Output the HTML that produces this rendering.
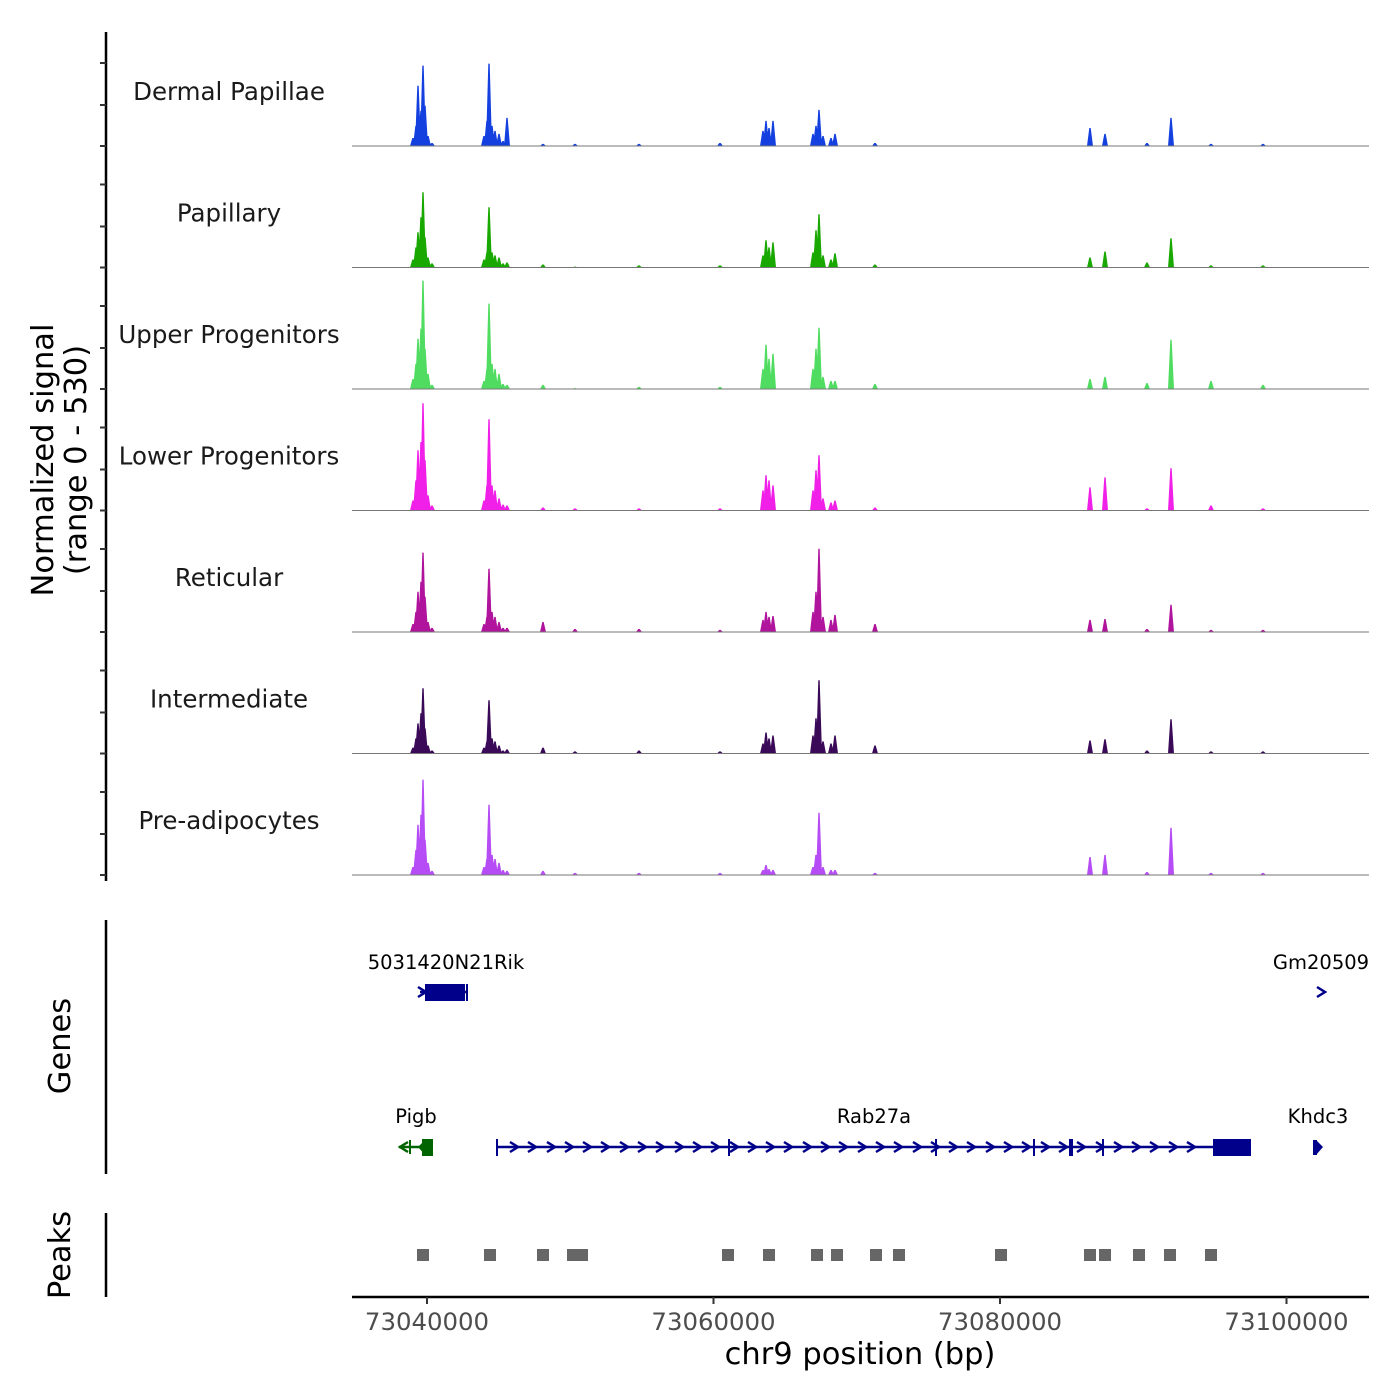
<!DOCTYPE html>
<html><head><meta charset="utf-8">
<style>
html,body{margin:0;padding:0;background:#fff;}
svg{display:block;font-family:"DejaVu Sans","Liberation Sans",sans-serif;}
</style></head>
<body>
<svg id="chart" width="1400" height="1400" viewBox="0 0 1400 1400" xmlns="http://www.w3.org/2000/svg">
<g id="tracks"></g>
<g id="genes"></g>
<g id="peaks"></g>
<g id="axes"></g>
</svg>
<script>
// ---- data ----
const trackNames = ["Dermal Papillae","Papillary","Upper Progenitors","Lower Progenitors","Reticular","Intermediate","Pre-adipocytes"];
const trackColors = ["#1440e0","#19a800","#50dc60","#f020e8","#b0149c","#3a0a58","#b54cf5"];
const spikePositions = [73039023,73039232,73039372,73039581,73039721,73039860,73040070,73040349,
 73043979,73044189,73044328,73044538,73044747,73045026,73045306,73045585,
 73048098,73050332,73054800,73060454,
 73063456,73063665,73063875,73064154,
 73066947,73067156,73067366,73067645,73068203,73068483,
 73071275,73086284,73087331,73090263,73091939,73094731,73098361];
const sigDermal = [35,88,264,154,352,176,44,13, 44,110,361,88,66,53,22,123, 9,9,9,13, 66,110,79,110, 53,88,158,44,35,53, 13, 79,53,13,123,9,9];
const sigPapillary = [35,88,154,220,330,132,44,18, 35,66,264,66,53,44,18,22, 13,4,9,9, 53,119,88,110, 66,163,233,53,35,62, 13, 44,70,22,128,9,9];
const sigUpper = [44,110,220,264,475,176,66,18, 35,88,374,110,88,66,22,18, 18,4,9,9, 88,194,132,154, 88,176,268,53,35,35, 22, 44,53,26,216,35,18];
const sigLower = [44,132,264,300,470,220,66,22, 44,110,400,110,88,53,26,22, 13,9,9,9, 88,154,132,110, 88,176,242,53,35,44, 13, 101,145,9,185,22,9];
const sigReticular = [35,88,176,220,348,154,44,18, 35,66,277,88,66,44,18,18, 44,13,13,9, 53,88,66,70, 88,176,365,66,53,75, 35, 53,57,13,119,9,9];
const sigIntermediate = [26,66,132,176,286,110,35,13, 26,53,233,66,53,35,13,18, 26,9,13,9, 44,92,66,79, 79,154,321,53,44,79, 35, 57,62,13,150,9,9];
const sigPreadipo = [35,110,220,264,418,154,53,18, 35,70,308,88,70,53,22,18, 18,9,9,9, 22,44,26,22, 35,88,273,35,22,22, 9, 79,88,13,207,9,9];
const trackSignals = [sigDermal,sigPapillary,sigUpper,sigLower,sigReticular,sigIntermediate,sigPreadipo];
const yMax = 530;
const xTicks = [73040000,73060000,73080000,73100000];
const peakCenters = [73039721,73044398,73048098,73050192,73050821,73061013,73063875,73067226,73068622,73071345,73072950,73080071,73086284,73087331,73089705,73091869,73094731];
const peakWidthBp = 840;

// ---- scales ----
const X0 = 352, X1 = 1369, BP0 = 73034764, BP1 = 73105759;
function xs(bp){ return X0 + (bp - BP0) * (X1 - X0) / (BP1 - BP0); }
const trackBase0 = 146, trackStep = 121.5, trackH = 121;
function ys(v, i){ return trackBase0 + i*trackStep - v/yMax*trackH; }

const NS = "http://www.w3.org/2000/svg";
function mk(tag, attrs, parent){ const e=document.createElementNS(NS,tag); for(const k in attrs) e.setAttribute(k,attrs[k]); parent.appendChild(e); return e; }

// ---- tracks ----
const gT = document.getElementById('tracks');
trackNames.forEach((name,i)=>{
  const g = mk('g',{},gT);
  
  
  const base = ys(0,i);
  const vals = trackSignals[i];
  let d = '';
  spikePositions.forEach((p,j)=>{
    const x = xs(p), y = ys(vals[j], i);
    d += `M${(x-3).toFixed(1)},${base}L${(x-0.7).toFixed(1)},${y.toFixed(1)}L${(x+0.7).toFixed(1)},${y.toFixed(1)}L${(x+3).toFixed(1)},${base}Z`;
  });
  const area = mk('path',{d:d,fill:trackColors[i]},g);
  
  
  const bl = mk('line',{x1:X0,x2:X1,y1:base,y2:base,stroke:'#777',"stroke-width":1},g);
  
  
  const lab = mk('text',{x:229,y:base-46,"text-anchor":"middle","font-size":24.5,fill:"#1a1a1a"},g);
  lab.textContent = name;
  
  
});

// ---- genes ----
const gG = document.getElementById('genes');
const blue = '#00008b', green = '#006400';
function chev(x,y,c,dir,parent){ const s=dir*4; mk('path',{d:`M${x-s},${y-5}L${x+s},${y}L${x-s},${y+5}`,fill:'none',stroke:c,"stroke-width":2.5},parent); }
(function(){
  const g=mk('g',{},gG);  
  mk('line',{x1:420,x2:468,y1:992,y2:992,stroke:blue,"stroke-width":2.5},g);
  mk('rect',{x:425,y:984,width:40,height:17,fill:blue},g);
  chev(422,992,blue,1,g); mk('line',{x1:467,x2:467,y1:984,y2:1001,stroke:blue,"stroke-width":2},g);
  const t=mk('text',{x:446,y:969,"text-anchor":"middle","font-size":19.5,fill:"#000"},g); t.textContent='5031420N21Rik';
})();
(function(){
  const g=mk('g',{},gG);  
  chev(1321,992,blue,1,g);
  const t=mk('text',{x:1321,y:969,"text-anchor":"middle","font-size":19.5,fill:"#000"},g); t.textContent='Gm20509';
})();
(function(){
  const g=mk('g',{},gG);  
  mk('line',{x1:399,x2:430,y1:1147,y2:1147,stroke:green,"stroke-width":2.5},g);
  mk('rect',{x:422,y:1139,width:11,height:17,fill:green},g);
  mk('path',{d:'M418,1147L426,1139L426,1156Z',fill:green},g);
  chev(404,1147,green,-1,g);
  mk('line',{x1:410,x2:410,y1:1140,y2:1154,stroke:green,"stroke-width":2},g);
  const t=mk('text',{x:416,y:1123,"text-anchor":"middle","font-size":19.5,fill:"#000"},g); t.textContent='Pigb';
})();
(function(){
  const g=mk('g',{},gG);  
  mk('line',{x1:496,x2:1250,y1:1147,y2:1147,stroke:blue,"stroke-width":2.5},g);
  mk('rect',{x:1213,y:1139,width:38,height:17,fill:blue},g);
  for(let x=514;x<1205;x+=18.3) chev(Math.round(x),1147,blue,1,g);
  [497,729,936,1034,1071,1103].forEach(x=>mk('line',{x1:x,x2:x,y1:1139,y2:1156,stroke:blue,"stroke-width":x===1071?4:2},g));
  const t=mk('text',{x:874,y:1123,"text-anchor":"middle","font-size":19.5,fill:"#000"},g); t.textContent='Rab27a';
})();
(function(){
  const g=mk('g',{},gG);  
  mk('rect',{x:1313,y:1140,width:4,height:15,fill:blue},g);
  mk('path',{d:'M1316,1140L1323,1147L1316,1155Z',fill:blue},g);
  const t=mk('text',{x:1318,y:1123,"text-anchor":"middle","font-size":19.5,fill:"#000"},g); t.textContent='Khdc3';
})();

// ---- peaks ----
const gP = document.getElementById('peaks');
peakCenters.forEach(c=>{
  const x0 = xs(c - peakWidthBp/2), x1 = xs(c + peakWidthBp/2);
  const r = mk('rect',{x:x0.toFixed(1),y:1249,width:(x1-x0).toFixed(1),height:12,fill:'#666'},gP);
  
  
});

// ---- axes ----
const gA = document.getElementById('axes');
function ln(a,name){ const l=mk('line',Object.assign({stroke:'#000',"stroke-width":2.5},a),gA);   return l; }
ln({x1:106,x2:106,y1:32,y2:881},'signal-y-axis');
for(let i=0;i<trackNames.length;i++){
  const b = ys(0,i);
  [0,41,83].forEach(o=>ln({x1:100,x2:106,y1:b-o,y2:b-o,stroke:'#333',"stroke-width":2},'y-tick'));
}
ln({x1:106,x2:106,y1:920,y2:1174},'genes-y-axis');
ln({x1:106,x2:106,y1:1213,y2:1297},'peaks-y-axis');
ln({x1:352,x2:1369,y1:1297,y2:1297},'x-axis');
xTicks.forEach(v=>{
  const x = xs(v);
  ln({x1:x,x2:x,y1:1297,y2:1304,stroke:'#333',"stroke-width":2},'x-tick');
  const t = mk('text',{x:x,y:1330,"text-anchor":"middle","font-size":24.4,fill:"#4d4d4d"},gA);
  t.textContent = String(v);
  
  
});
function txt(s,a,name){ const t=mk('text',Object.assign({"text-anchor":"middle",fill:"#000"},a),gA); t.textContent=s;   }
txt('chr9 position (bp)',{x:860,y:1364,"font-size":30.5},'x-axis-title');
txt('Normalized signal',{x:0,y:0,"font-size":30.5,transform:'translate(53,460) rotate(-90)'},'y-axis-title');
txt('(range 0 - 530)',{x:0,y:0,"font-size":30.5,transform:'translate(86,460) rotate(-90)'},'y-axis-subtitle');
txt('Genes',{x:0,y:0,"font-size":30.5,transform:'translate(70,1046) rotate(-90)'},'genes-title');
txt('Peaks',{x:0,y:0,"font-size":30.5,transform:'translate(70,1255) rotate(-90)'},'peaks-title');
</script>
</body></html>
